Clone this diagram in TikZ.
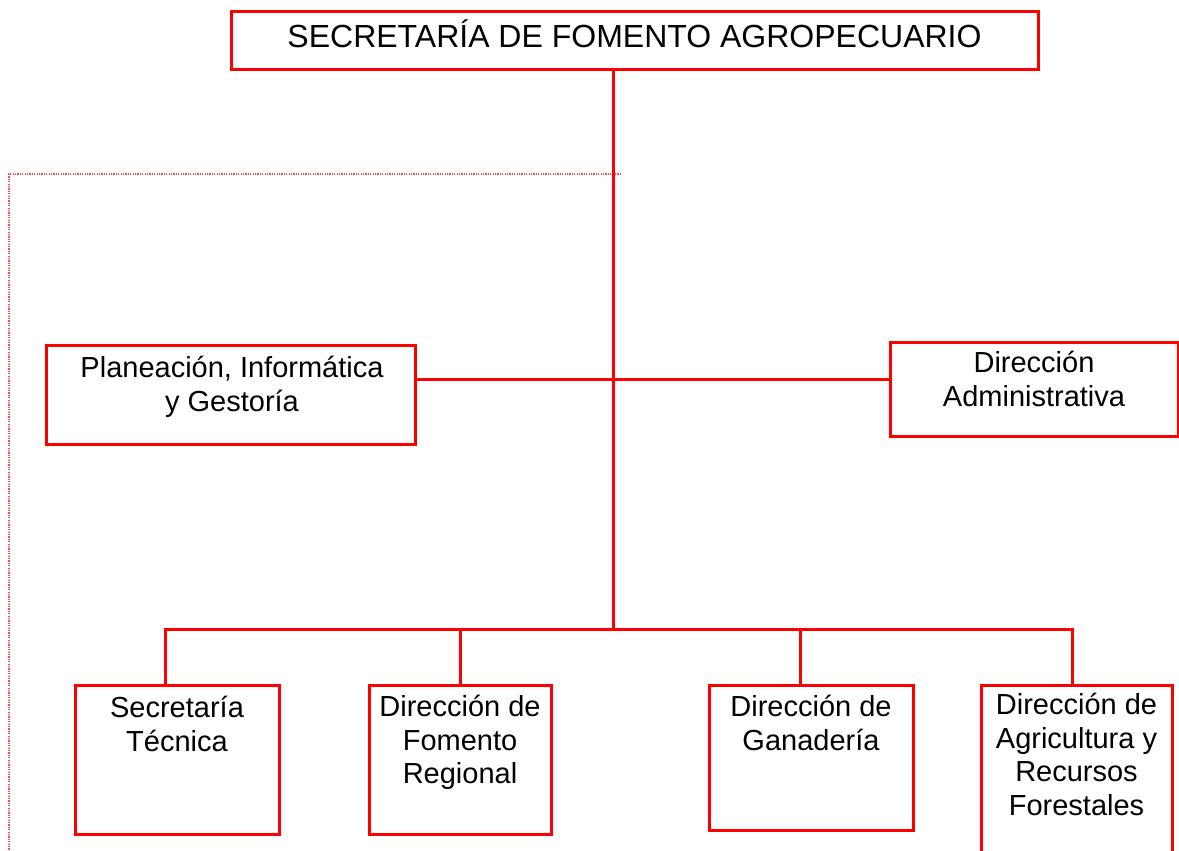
\documentclass[tikz,border=0pt]{standalone}
\usepackage{fontspec}
\setmainfont{Liberation Sans}
\newcommand{\firststrutA}{\rule{0pt}{26pt}}
\newcommand{\firststrutB}{\rule{0pt}{32pt}}
\begin{document}
\begin{tikzpicture}[x=1pt,y=-1pt,
  orgbox/.style={draw=red, line width=3pt, rectangle, inner sep=0pt},
  conn/.style={draw=red, line width=3pt},
  guide/.style={draw=red!70, line width=1.2pt, dash pattern=on 1.2pt off 1.2pt},
  lbl/.style={anchor=north, inner sep=0pt, align=center, font=\fontsize{29}{33.5}\selectfont},
  toplbl/.style={anchor=north, inner sep=0pt, align=center, font=\fontsize{32}{37}\selectfont}]
\clip (0,0) rectangle (1179,851);
\fill[white] (0,0) rectangle (1179,851);

% boxes
\node[orgbox, minimum width=807pt, minimum height=58pt] (top) at (634.5,41) {};
\node[orgbox, minimum width=369pt, minimum height=99pt] (plan) at (230.5,394.5) {};
\node[orgbox, minimum width=288pt, minimum height=94pt] (adm) at (1034,389) {};
\node[orgbox, minimum width=204pt, minimum height=149pt] (b1) at (177,759.5) {};
\node[orgbox, minimum width=182pt, minimum height=149pt] (b2) at (460,759.5) {};
\node[orgbox, minimum width=204pt, minimum height=145pt] (b3) at (811,757.5) {};
\node[orgbox, minimum width=191pt, minimum height=200pt] (b4) at (1076.5,785) {};

% texts
\node[toplbl] (t0) at (634.5,15.5) {\firststrutB SECRETARÍA DE FOMENTO AGROPECUARIO};
\node[lbl] (t1) at (232,351.5) {\firststrutA Planeación, Informática\\y Gestoría};
\node[lbl] (t2) at (1034,346.5) {\firststrutA Dirección\\Administrativa};
\node[lbl] (t3) at (177,691.5) {\firststrutA Secretaría\\Técnica};
\node[lbl] (t4) at (460,690.5) {\firststrutA Dirección de\\Fomento\\Regional};
\node[lbl] (t5) at (811,690.5) {\firststrutA Dirección de\\Ganadería};
\node[lbl] (t6) at (1076.5,688.5) {\firststrutA Dirección de\\Agricultura y\\Recursos\\Forestales};

% coordinates for connectors
\coordinate (hub) at (613,379);
\coordinate (bus) at (613,629);
\coordinate (d1) at (165,629);
\coordinate (d2) at (460,629);
\coordinate (d3) at (800,629);
\coordinate (d4) at (1072,629);
\coordinate (dotR) at (621,174);
\coordinate (dotL) at (9,174);
\coordinate (dotB) at (10,851);

% dotted guide
\draw[guide] (dotR) -- (dotL) -- (dotL |- dotB);

% connectors
\draw[conn] (top.south -| hub) -- (bus);
\draw[conn] (plan.east |- hub) -- (adm.west |- hub);
\draw[conn] (d1 |- b1.north) -- (d1) -- (d4) -- (d4 |- b4.north);
\draw[conn] (d2) -- (d2 |- b2.north);
\draw[conn] (d3) -- (d3 |- b3.north);
\end{tikzpicture}
\end{document}
